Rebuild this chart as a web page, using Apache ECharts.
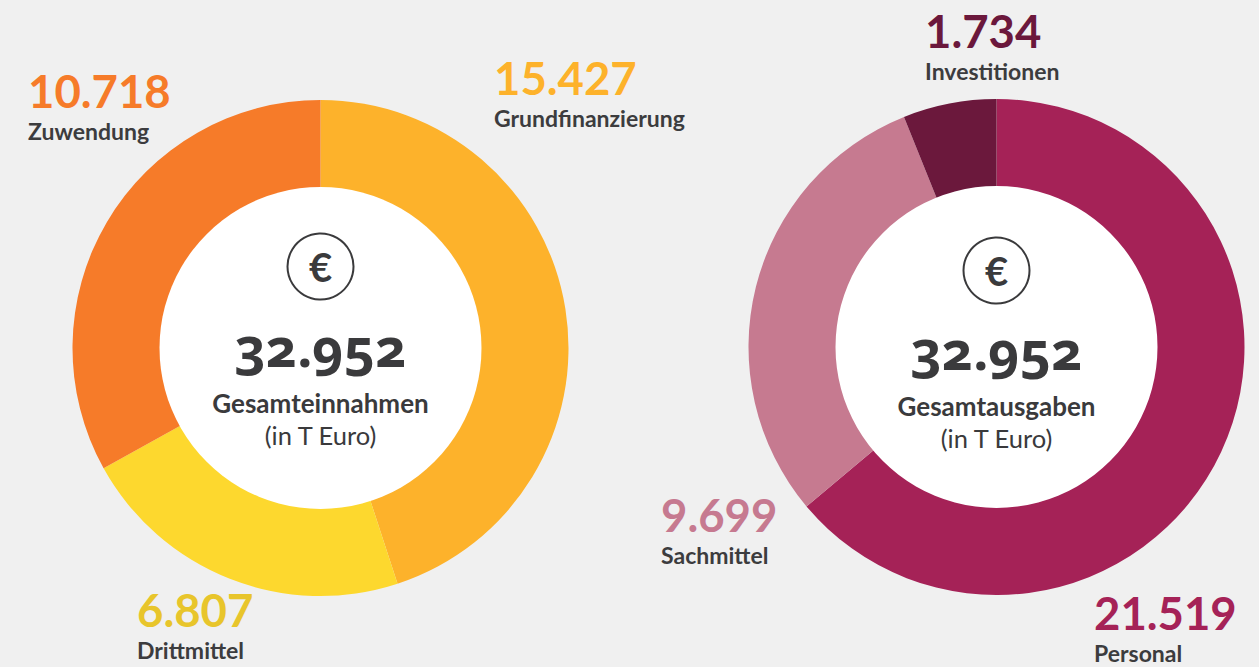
<!DOCTYPE html>
<html><head><meta charset="utf-8">
<style>html,body{margin:0;padding:0;background:#f0f0f0}#c{width:1259px;height:667px}
text[style*="54px"]{font-variant-numeric:oldstyle-nums !important;font-feature-settings:"onum" 1 !important}</style>
<script src="https://cdn.jsdelivr.net/npm/echarts@6/dist/echarts.min.js"></script>
</head><body><div id="c"></div>
<script>
// Printed figures
const incomeNames = ['Grundfinanzierung','Drittmittel','Zuwendung'];
const incomeValues = [15427,6807,10718];
const incomeColors = ['#fdb22b','#fdd82e','#f67b29'];
const spendNames = ['Personal','Sachmittel','Investitionen'];
const spendValues = [21519,9699,1734];
const spendColors = ['#a52257','#c67a90','#6b183c'];
// The reference's slices are not exactly proportional to its printed figures:
// these are the slice sizes, in degrees.
const incomeDrawnDegrees = [161.9,79.1,119];
const spendDrawnDegrees = [230,108.1,21.9];
const totalIncome = '32.952', totalSpend = '32.952';
const fmt = v => String(v).replace(/(\d)(\d{3})$/,'$1.$2');
const font = 'Lato,"Noto Sans",sans-serif';
const chart = echarts.init(document.getElementById('c'),null,{renderer:'svg'});
function pie(names,vals,cols,cx,cy){return {type:'pie',center:[cx,cy],radius:[150,248],startAngle:90,clockwise:true,silent:true,
  label:{show:false},labelLine:{show:false},itemStyle:{borderWidth:0},
  data:names.map((n,i)=>({name:n,value:vals[i],itemStyle:{color:cols[i]}}))};}
function lab(x,y,val,name,col){return [
 {type:'text',z:10,left:x,top:y,style:{text:val,font:'bold 45.5px '+font,fill:col}},
 {type:'text',z:10,left:x,top:y+52,style:{text:name,font:'bold 23px '+font,fill:'#3c3c3e'}}];}
function centre(cx,cy,total,title,iconY,textY){return [
 {type:'circle',z:10,shape:{cx:cx,cy:cy,r:161},style:{fill:'#fff'}},
 {type:'circle',z:11,shape:{cx:cx,cy:iconY,r:33},style:{fill:'#fff',stroke:'#3a3a3c',lineWidth:2}},
 {type:'text',z:12,x:cx,y:iconY,style:{text:'€',align:'center',verticalAlign:'middle',font:'bold 40px '+font,fill:'#3a3a3c'}},
 {type:'text',z:12,x:cx,y:textY-2,style:{text:total,align:'center',verticalAlign:'middle',font:'bold 54px "Noto Sans",sans-serif',fill:'#3a3a3c'}},
 {type:'text',z:12,x:cx,y:textY+55,style:{text:title,align:'center',verticalAlign:'middle',font:'bold 26px '+font,fill:'#3a3a3c'}},
 {type:'text',z:12,x:cx,y:textY+87,style:{text:'(in T Euro)',align:'center',verticalAlign:'middle',font:'25.5px '+font,fill:'#3a3a3c'}}];}
chart.setOption({animation:false,backgroundColor:'#f0f0f0',
 series:[pie(incomeNames,incomeDrawnDegrees,incomeColors,320.5,348),pie(spendNames,spendDrawnDegrees,spendColors,996.5,347)],
 graphic:[...centre(320.5,348,totalIncome,'Gesamteinnahmen',266.5,348),...centre(996.5,347,totalSpend,'Gesamtausgaben',270.5,351),
 ...lab(28,67,fmt(incomeValues[2]),incomeNames[2],'#f67b29'),
 ...lab(494,54,fmt(incomeValues[0]),incomeNames[0],'#fdb22b'),
 ...lab(137,586,fmt(incomeValues[1]),incomeNames[1],'#e8c52b'),
 ...lab(925,7,fmt(spendValues[2]),spendNames[2],'#6b183c'),
 ...lab(661,491,fmt(spendValues[1]),spendNames[1],'#c67a90'),
 ...lab(1094,589,fmt(spendValues[0]),spendNames[0],'#a52257')]});
</script></body></html>
